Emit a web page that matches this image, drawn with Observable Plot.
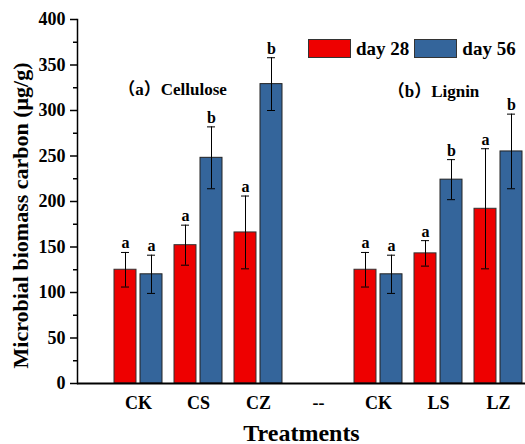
<!DOCTYPE html>
<html><head><meta charset="utf-8">
<script src="https://cdn.jsdelivr.net/npm/d3@7"></script>
<script src="https://cdn.jsdelivr.net/npm/@observablehq/plot@0.6"></script>
<style>
body{margin:0;background:#fff;}
#wrap{position:relative;width:525px;height:444px;font-family:"Liberation Serif","Times New Roman",serif;font-weight:bold;}
#legend{position:absolute;left:308px;top:39px;display:flex;align-items:center;font-size:19px;line-height:19px;color:#000;}
#legend .sw{width:43px;height:19px;border:1px solid #333;box-sizing:border-box;margin-right:5px;}
#legend .lab{margin-right:5px;}
</style></head><body><div id="wrap"><div id="legend"></div></div>
<script>
const keys = ["CK1","CS","CZ","--","CK2","LS","LZ"];
const labels = ["CK","CS","CZ","--","CK","LS","LZ"];
const days = ["day 28","day 56"];
const colors = ["#ee0000","#34659b"];
const day28Mean = [125,152,166,null,125,143,192];
const day28SD   = [19,22,40,null,19,14,66];
const day28Letter = ["a","a","a",null,"a","a","a"];
const day56Mean = [120,248,329,null,120,224,255];
const day56SD   = [21,34,29,null,21,22,41];
const day56Letter = ["a","b","b",null,"a","b","b"];
const yTicks = [0,50,100,150,200,250,300,350,400];
const yMinor = [25,75,125,175,225,275,325,375];
const noteA = [{key:"CS", y:323, label:"（a）Cellulose"}];
const noteB = [{key:"LS", y:321, label:"（b）Lignin"}];

function build(means, sds, letters, day){
  const out = [];
  keys.forEach((k,i)=>{ if(means[i]!=null) out.push({key:k, day, mean:means[i], sd:sds[i], letter:letters[i]}); });
  return out;
}
const red = build(day28Mean, day28SD, day28Letter, days[0]);
const blue = build(day56Mean, day56SD, day56Letter, days[1]);

const font = "Liberation Serif";
const noteFont = "'Liberation Serif', 'Noto Sans CJK SC', serif";
const chart = Plot.plot({
  width:525, height:444, marginLeft:77, marginRight:0, marginTop:19, marginBottom:61,
  style:{fontFamily:font, fontWeight:"bold", color:"#000", background:"#fff", overflow:"visible"},
  x:{domain:keys, range:[107,529], padding:0, label:null},
  y:{domain:[0,400], label:null},
  marks:[
    Plot.barY(red,{x:"key", y:"mean", fill:colors[0], stroke:"#333", strokeWidth:1, insetLeft:6, insetRight:32}),
    Plot.barY(blue,{x:"key", y:"mean", fill:colors[1], stroke:"#222", strokeWidth:1, insetLeft:32, insetRight:6}),
    Plot.ruleX(red,{x:"key", y1:d=>d.mean-d.sd, y2:d=>d.mean+d.sd, dx:-13, stroke:"#000", strokeWidth:1}),
    Plot.ruleX(blue,{x:"key", y1:d=>d.mean-d.sd, y2:d=>d.mean+d.sd, dx:13, stroke:"#000", strokeWidth:1}),
    Plot.tickY(red,{x:"key", y:d=>d.mean+d.sd, insetLeft:13, insetRight:39, stroke:"#000"}),
    Plot.tickY(red,{x:"key", y:d=>d.mean-d.sd, insetLeft:13, insetRight:39, stroke:"#000"}),
    Plot.tickY(blue,{x:"key", y:d=>d.mean+d.sd, insetLeft:39, insetRight:13, stroke:"#000"}),
    Plot.tickY(blue,{x:"key", y:d=>d.mean-d.sd, insetLeft:39, insetRight:13, stroke:"#000"}),
    Plot.text(red,{x:"key", y:d=>d.mean+d.sd, text:"letter", dx:-13, dy:-4, lineAnchor:"bottom", fontSize:16, fontWeight:"bold", fill:"#000"}),
    Plot.text(blue,{x:"key", y:d=>d.mean+d.sd, text:"letter", dx:13, dy:-4, lineAnchor:"bottom", fontSize:16, fontWeight:"bold", fill:"#000"}),
    Plot.text(noteA,{x:"key", y:"y", text:"label", dx:-26, fontSize:17, fontWeight:"bold", fill:"#000", fontFamily:noteFont}),
    Plot.text(noteB,{x:"key", y:"y", text:"label", dx:-5, fontSize:17, fontWeight:"bold", fill:"#000", fontFamily:noteFont}),
    Plot.axisY({ticks:yTicks, tickSize:7, tickPadding:5, fontSize:18, label:null, tickFormat:d=>String(d), strokeWidth:1.5}),
    Plot.axisY({ticks:yMinor, tickSize:4, tickFormat:()=>"", label:null, strokeWidth:1.5}),
    Plot.axisX({tickSize:0, tickPadding:13, fontSize:18, label:null, tickFormat:d=>labels[keys.indexOf(d)]}),
    Plot.frame({anchor:"left", strokeWidth:1.5}),
    Plot.ruleY([0],{strokeWidth:2}),
    Plot.text(["Microbial biomass carbon (μg/g)"],{frameAnchor:"left", textAnchor:"middle", lineAnchor:"middle", rotate:-90, dx:-57, dy:14, fontSize:22, fontWeight:"bold", fill:"#000"}),
    Plot.text(["Treatments"],{frameAnchor:"bottom", lineAnchor:"bottom", dy:57, fontSize:24, fontWeight:"bold", fill:"#000"})
  ]
});
document.getElementById("wrap").prepend(chart);

const lg = document.getElementById("legend");
days.forEach((d,i)=>{
  const sw = document.createElement("div"); sw.className="sw"; sw.style.background=colors[i];
  const lb = document.createElement("span"); lb.className="lab"; lb.textContent=d;
  lg.append(sw, lb);
});
</script>
</body></html>
